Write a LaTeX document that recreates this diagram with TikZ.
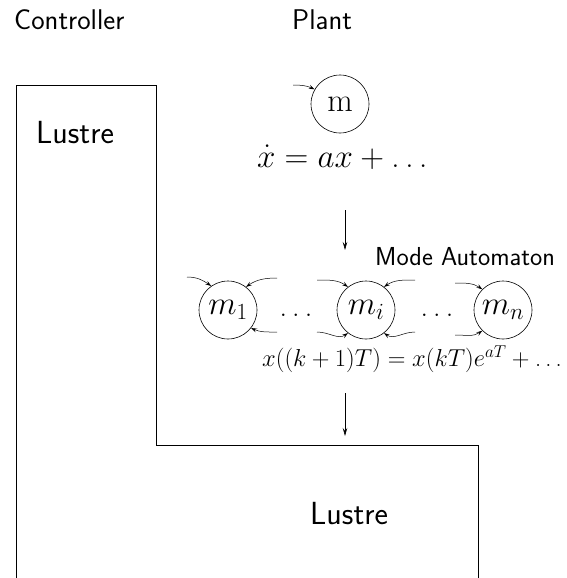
\RequirePackage{fix-cm}
\documentclass[tikz,border=0pt]{standalone}
\usepackage{fontspec}
\usetikzlibrary{arrows.meta}
\newcommand\spdots{.\kern.17em.\kern.17em.}
\begin{document}
\begin{tikzpicture}[x=1pt,y=1pt,
  lbl/.style={font=\sffamily\fontsize{28.5}{32}\selectfont, anchor=base west, inner sep=0},
  biglbl/.style={lbl, font=\sffamily\fontsize{32}{36}\selectfont},
  smalllbl/.style={lbl, font=\sffamily\fontsize{26}{29}\selectfont},
  state/.style={circle, draw, line width=0.6pt, minimum size=58pt, inner sep=0, font=\fontsize{33}{33}\selectfont},
  eqn/.style={anchor=base west, inner sep=0},
  dotsnode/.style={anchor=base, inner sep=0, font=\fontsize{30}{30}\selectfont},
  flow/.style={line width=0.6pt, -{Stealth[length=8pt,width=4.5pt,inset=3pt]}},
  loopin/.style={line width=0.5pt, -{Stealth[length=6pt,width=4pt,inset=2.5pt]}},
  wall/.style={line width=0.9pt}]
\useasboundingbox (0,0) rectangle (566,-578);

% titles
\node[lbl] (ctrl) at (14,-30) {Controller};
\node[lbl] (plant) at (292,-30) {Plant};
\node[biglbl] (lus1) at (36,-143) {Lustre};
\node[biglbl] (lus2) at (310,-524) {Lustre};
\node[smalllbl] (modeaut) at (375,-265) {Mode Automaton};

% outline of the Lustre blocks
\coordinate (w1) at (16,-578);
\coordinate (w2) at (16,-85);
\coordinate (w3) at (156,-85);
\coordinate (w4) at (156,-445);
\coordinate (w5) at (478,-445);
\coordinate (w6) at (478,-578);
\draw[wall] (w1) -- (w2) -- (w3) -- (w4) -- (w5) -- (w6);

% plant: continuous model
\node[state] (m) at (340,-104) {m};
\coordinate (min) at (293,-85);
\draw[loopin] (min) to[out=0,in=155] (m.150);
\node[eqn, font=\fontsize{33}{33}\selectfont] (eq1) at (257,-167) {$\dot{x} = ax + \mbox{\spdots}$};

\coordinate (f1s) at (345,-210);
\coordinate (f1e) at (345,-250);
\draw[flow] (f1s) -- (f1e);

% mode automaton
\node[state] (m1) at (228,-310) {$m_1$};
\node[state] (mi) at (366,-310) {$m_i$};
\node[state] (mn) at (503,-310) {$m_n$};
\node[dotsnode] (d1) at (296,-316) {\spdots};
\node[dotsnode] (d2) at (437,-316) {\spdots};

\coordinate (m1tl) at (187,-277);
\coordinate (m1tr) at (277,-278);
\coordinate (m1br) at (277,-332);
\draw[loopin] (m1tl) to[out=0,in=145] (m1.125);
\draw[loopin] (m1tr) to[out=180,in=35] (m1.52);
\draw[loopin] (m1br) to[out=180,in=-25] (m1.-38);

\coordinate (mitl) at (317,-280);
\coordinate (mitr) at (415,-280);
\coordinate (mibl) at (317,-332);
\coordinate (mibr) at (415,-332);
\draw[loopin] (mitl) to[out=0,in=145] (mi.128);
\draw[loopin] (mitr) to[out=180,in=35] (mi.52);
\draw[loopin] (mibl) to[out=0,in=-145] (mi.-128);
\draw[loopin] (mibr) to[out=180,in=-35] (mi.-52);

\coordinate (mntl) at (455,-283);
\coordinate (mnbl) at (455,-335);
\draw[loopin] (mntl) to[out=0,in=145] (mn.135);
\draw[loopin] (mnbl) to[out=0,in=-145] (mn.-135);

\node[eqn, font=\fontsize{24.5}{24.5}\selectfont] (eq2) at (262,-366) {$x((k+1)T) = x(kT)e^{aT} + \mbox{\spdots}$};

\coordinate (f2s) at (345,-393);
\coordinate (f2e) at (345,-436);
\draw[flow] (f2s) -- (f2e);
\end{tikzpicture}
\end{document}
